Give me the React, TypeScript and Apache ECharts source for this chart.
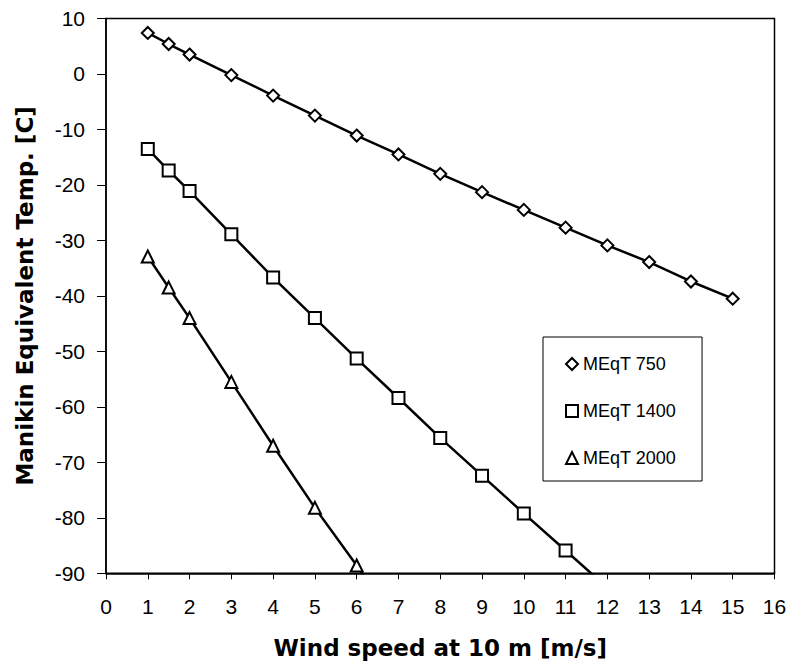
import React, { useEffect, useRef } from "react";
import * as echarts from "echarts";

const xTicks = [0, 16];
const yRange = [-90, 10];

const x750 = [1, 1.5, 2, 3, 4, 5, 6, 7, 8, 9, 10, 11, 12, 13, 14, 15];
const v750 = [7.4, 5.4, 3.5, -0.2, -3.9, -7.5, -11.1, -14.5, -18.0, -21.3, -24.5, -27.7, -30.9, -33.9, -37.4, -40.5];

const x1400 = [1, 1.5, 2, 3, 4, 5, 6, 7, 8, 9, 10, 11, 12];
const v1400 = [-13.5, -17.4, -21.1, -28.9, -36.7, -44.0, -51.3, -58.4, -65.6, -72.4, -79.2, -85.9, -92.6];

const x2000 = [1, 1.5, 2, 3, 4, 5, 6, 7];
const v2000 = [-32.9, -38.5, -44.0, -55.5, -67.0, -78.2, -88.6, -99.5];

const seriesNames = ["MEqT 750", "MEqT 1400", "MEqT 2000"];
const symbols = ["emptyDiamond", "emptyRect", "emptyTriangle"];
const symbolSizes = [12, 12, 12];

const pairs = (xs: number[], ys: number[]) => xs.map((x, i) => [x, ys[i]]);

export default function App() {
  const ref = useRef<HTMLDivElement>(null);
  useEffect(() => {
    if (!ref.current) return;
    const chart = echarts.init(ref.current, null, { renderer: "svg" });
    const datasets = [pairs(x750, v750), pairs(x1400, v1400), pairs(x2000, v2000)];
    const tickFont = "'Liberation Sans', Arial, sans-serif";
    const titleFont = "'DejaVu Sans', sans-serif";
    chart.setOption({
      animation: false,
      backgroundColor: "#fff",
      grid: {
        left: 106,
        top: 18.5,
        right: 15.5,
        bottom: 91.7,
        show: true,
        borderColor: "#000",
        borderWidth: 1.5,
        backgroundColor: "transparent",
      },
      legend: {
        orient: "vertical",
        left: 543,
        top: 337,
        padding: [18, 26, 14, 22],
        itemGap: 29,
        itemWidth: 12,
        itemHeight: 12,
        borderColor: "#000",
        borderWidth: 1,
        textStyle: { fontFamily: tickFont, fontSize: 18, color: "#000" },
        data: seriesNames.map((n, i) => ({ name: n, icon: symbols[i] })),
      },
      xAxis: {
        type: "value",
        min: xTicks[0],
        max: xTicks[1],
        interval: 1,
        name: "Wind speed at 10 m [m/s]",
        nameLocation: "middle",
        nameGap: 63,
        nameTextStyle: { fontFamily: titleFont, fontWeight: "bold", fontSize: 23, color: "#000" },
        axisLine: { onZero: false, lineStyle: { color: "#000", width: 1.5 } },
        axisTick: { length: 6, lineStyle: { color: "#000", width: 1 } },
        axisLabel: { fontFamily: tickFont, fontSize: 21, color: "#000", margin: 23 },
        splitLine: { show: false },
      },
      yAxis: {
        type: "value",
        min: yRange[0],
        max: yRange[1],
        interval: 10,
        name: "Manikin Equivalent Temp. [C]",
        nameLocation: "middle",
        nameGap: 70,
        nameTextStyle: { fontFamily: titleFont, fontWeight: "bold", fontSize: 23, color: "#000" },
        axisLine: { onZero: false, lineStyle: { color: "#000", width: 1.5 } },
        axisTick: { length: 9, lineStyle: { color: "#000", width: 1 } },
        axisLabel: { fontFamily: tickFont, fontSize: 21, color: "#000", margin: 21 },
        splitLine: { show: false },
      },
      series: datasets.map((d, i) => ({
        name: seriesNames[i],
        type: "line",
        data: d,
        clip: true,
        symbol: symbols[i],
        symbolSize: symbolSizes[i],
        showAllSymbol: true,
        lineStyle: { color: "#000", width: 2.5 },
        itemStyle: { color: "#000", borderColor: "#000", borderWidth: 1.8 },
        emphasis: { disabled: true },
      })),
    });
    return () => chart.dispose();
  }, []);
  return (
    <div
      ref={ref}
      style={{ position: "fixed", left: 0, top: 0, width: 790, height: 665, background: "#fff" }}
    />
  );
}
